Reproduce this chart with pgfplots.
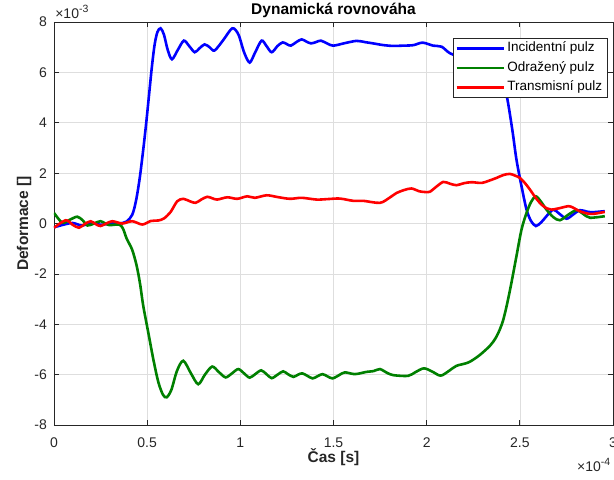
\documentclass[border=0pt]{standalone}
\usepackage{fontspec}
\setmainfont{Liberation Sans}
\usepackage{pgfplots}
\pgfplotsset{compat=1.18}
\definecolor{mblue}{rgb}{0,0,1}
\definecolor{mgreen}{rgb}{0,0.5,0}
\definecolor{mred}{rgb}{1,0,0}
\definecolor{axc}{rgb}{0.15,0.15,0.15}
\definecolor{gridc}{rgb}{0.87,0.87,0.87}
\begin{document}
\begin{tikzpicture}
\begin{axis}[
 scale only axis, width=559pt, height=403pt,
 xmin=0, xmax=3, ymin=-8, ymax=8,
 xtick={0,0.5,1,1.5,2,2.5,3}, xticklabels={0,0.5,1,1.5,2,2.5,3},
 ytick={-8,-6,-4,-2,0,2,4,6,8}, yticklabels={-8,-6,-4,-2,0,2,4,6,8},
 grid=major, major grid style={gridc, line width=0.6pt},
 axis line style={axc, line width=0.7pt},
 tick style={axc, line width=0.7pt}, tick align=inside, major tick length=5pt,
 ticklabel style={font=\fontsize{14}{16}\selectfont, text=axc, inner sep=0pt},
 xticklabel style={anchor=north, yshift=-13pt},
 yticklabel style={anchor=east, xshift=-7pt},
 /pgf/number format/assume math mode=true,
 every axis title shift=0pt,
 title={Dynamická rovnováha},
 title style={font=\fontsize{15.5}{18}\selectfont\bfseries, at={(axis description cs:0.5,1.0174)}, anchor=base, inner sep=0pt},
 xlabel={Čas [s]},
 xlabel style={font=\fontsize{15.5}{18}\selectfont\bfseries, text=axc, at={(axis description cs:0.5,-0.0925)}, anchor=base, inner sep=0pt},
 ylabel={Deformace []},
 ylabel style={font=\fontsize{15.5}{18}\selectfont\bfseries, text=axc, at={(axis description cs:-0.0465,0.5)}, anchor=base, inner sep=0pt, rotate=0},
 legend style={font=\fontsize{13.5}{15}\selectfont, draw=axc, line width=0.5pt,
   at={(axis description cs:1,1)}, anchor=north east, xshift=-6pt, yshift=-16pt,
   inner sep=2pt, row sep=3pt,
   nodes={inner ysep=2pt, inner xsep=2.5pt, text height=9.5pt, text depth=3pt}},
 legend cell align=left,
 legend image code/.code={\path (0pt,0pt) -- (4pt,0pt); \draw[#1] (4pt,0pt) -- (47pt,0pt);},
 every axis plot/.append style={line width=2.6pt, smooth, tension=0.5},
 clip mode=individual,
]
\addplot[mblue] coordinates {
(0,-0.15) (0.05,-0.05) (0.1,0.02) (0.15,-0.08) (0.2,0.02) (0.25,-0.05) (0.3,0.0) (0.35,0.0) (0.39,0.08) (0.42,0.35) (0.44,0.9) (0.46,1.8) (0.48,3.0) (0.495,4.0) (0.51,5.1) (0.525,6.2) (0.54,7.1) (0.555,7.6) (0.572,7.75) (0.59,7.5) (0.61,6.9) (0.633,6.52) (0.665,6.9) (0.697,7.26) (0.725,7.05) (0.755,6.8) (0.78,6.95) (0.808,7.11) (0.835,7.0) (0.862,6.87) (0.91,7.3) (0.957,7.75) (0.99,7.5) (1.02,6.8) (1.05,6.39) (1.08,6.8) (1.114,7.26) (1.14,7.05) (1.168,6.8) (1.2,7.05) (1.227,7.19) (1.25,7.12) (1.271,7.06) (1.3,7.2) (1.329,7.31) (1.355,7.22) (1.379,7.15) (1.405,7.2) (1.432,7.26) (1.465,7.15) (1.498,7.06) (1.56,7.16) (1.624,7.25) (1.67,7.2) (1.713,7.15) (1.77,7.08) (1.82,7.05) (1.87,7.06) (1.928,7.08) (1.978,7.18) (2.035,7.06) (2.08,7.02) (2.125,6.76) (2.2,6.55) (2.3,6.3) (2.37,5.9) (2.41,5.5) (2.432,4.98) (2.46,3.7) (2.482,2.53) (2.509,1.48) (2.536,0.55) (2.56,0.1) (2.586,-0.1) (2.615,0.05) (2.643,0.29) (2.679,0.55) (2.71,0.4) (2.75,0.19) (2.785,0.35) (2.822,0.53) (2.86,0.47) (2.893,0.45) (2.956,0.49)
};
\addlegendentry{Incidentní pulz}
\addplot[mgreen] coordinates {
(0,0.42) (0.045,0.03) (0.085,0.15) (0.125,0.27) (0.155,0.12) (0.18,-0.08) (0.215,0.0) (0.25,0.09) (0.295,-0.06) (0.349,-0.04) (0.37,-0.2) (0.39,-0.6) (0.42,-1.05) (0.444,-1.69) (0.462,-2.4) (0.479,-3.27) (0.506,-4.33) (0.533,-5.39) (0.56,-6.3) (0.585,-6.8) (0.605,-6.9) (0.63,-6.6) (0.66,-5.85) (0.694,-5.45) (0.735,-5.95) (0.774,-6.38) (0.81,-6.0) (0.849,-5.68) (0.885,-5.9) (0.921,-6.11) (0.955,-5.95) (0.989,-5.78) (1.02,-5.95) (1.05,-6.12) (1.08,-5.98) (1.112,-5.83) (1.14,-5.98) (1.168,-6.14) (1.2,-6.0) (1.23,-5.87) (1.255,-5.98) (1.285,-6.09) (1.31,-6.0) (1.333,-5.95) (1.36,-6.05) (1.388,-6.15) (1.415,-6.06) (1.441,-5.98) (1.468,-6.07) (1.495,-6.15) (1.53,-6.02) (1.561,-5.91) (1.615,-5.98) (1.678,-5.89) (1.715,-5.86) (1.749,-5.78) (1.785,-5.92) (1.82,-6.02) (1.9,-6.05) (1.94,-5.9) (1.985,-5.75) (2.03,-5.88) (2.075,-6.04) (2.12,-5.85) (2.16,-5.65) (2.223,-5.52) (2.28,-5.25) (2.339,-4.86) (2.37,-4.55) (2.393,-4.2) (2.41,-3.85) (2.425,-3.41) (2.44,-2.9) (2.455,-2.35) (2.482,-1.29) (2.509,-0.24) (2.536,0.42) (2.56,0.85) (2.586,1.08) (2.615,0.85) (2.643,0.55) (2.68,0.25) (2.715,0.13) (2.76,0.35) (2.804,0.53) (2.84,0.38) (2.876,0.23) (2.956,0.29)
};
\addlegendentry{Odražený pulz}
\addplot[mred] coordinates {
(0,-0.17) (0.063,0.13) (0.1,-0.05) (0.134,-0.17) (0.165,-0.02) (0.197,0.09) (0.225,-0.03) (0.25,-0.1) (0.28,0.0) (0.313,0.09) (0.367,0.0) (0.42,0.09) (0.474,-0.04) (0.52,0.1) (0.56,0.12) (0.59,0.2) (0.625,0.45) (0.661,0.88) (0.694,0.98) (0.73,0.88) (0.76,0.82) (0.79,0.95) (0.822,1.06) (0.85,1.0) (0.876,0.95) (0.93,1.04) (0.983,0.98) (1.037,1.08) (1.078,1.02) (1.141,1.12) (1.2,1.05) (1.266,0.98) (1.329,1.02) (1.41,0.95) (1.47,0.97) (1.534,0.99) (1.606,0.9) (1.66,0.9) (1.749,0.82) (1.8,1.02) (1.838,1.21) (1.88,1.33) (1.919,1.39) (1.96,1.28) (1.99,1.25) (2.017,1.26) (2.05,1.45) (2.089,1.65) (2.125,1.58) (2.16,1.52) (2.2,1.6) (2.241,1.64) (2.295,1.61) (2.335,1.7) (2.375,1.81) (2.41,1.92) (2.446,1.97) (2.475,1.9) (2.5,1.81) (2.528,1.6) (2.554,1.35) (2.585,1.02) (2.616,0.75) (2.645,0.6) (2.67,0.55) (2.72,0.62) (2.76,0.69) (2.786,0.63) (2.82,0.49) (2.86,0.4) (2.893,0.38) (2.956,0.46)
};
\addlegendentry{Transmisní pulz}
\node[anchor=base west, inner sep=0pt, text=axc, font=\fontsize{14}{16}\selectfont] at (axis description cs:0.002,1.0099) {×10\raisebox{6pt}{\fontsize{10.5}{12}\selectfont -3}};
\node[anchor=base west, inner sep=0pt, text=axc, font=\fontsize{14}{16}\selectfont] at (axis description cs:0.9356,-0.1166) {×10\raisebox{6pt}{\fontsize{10.5}{12}\selectfont -4}};
\end{axis}
\pgfresetboundingbox
\path[use as bounding box] ([xshift=-54pt,yshift=-54pt]current axis.south west) rectangle ([xshift=1pt,yshift=22pt]current axis.north east);
\end{tikzpicture}
\end{document}
